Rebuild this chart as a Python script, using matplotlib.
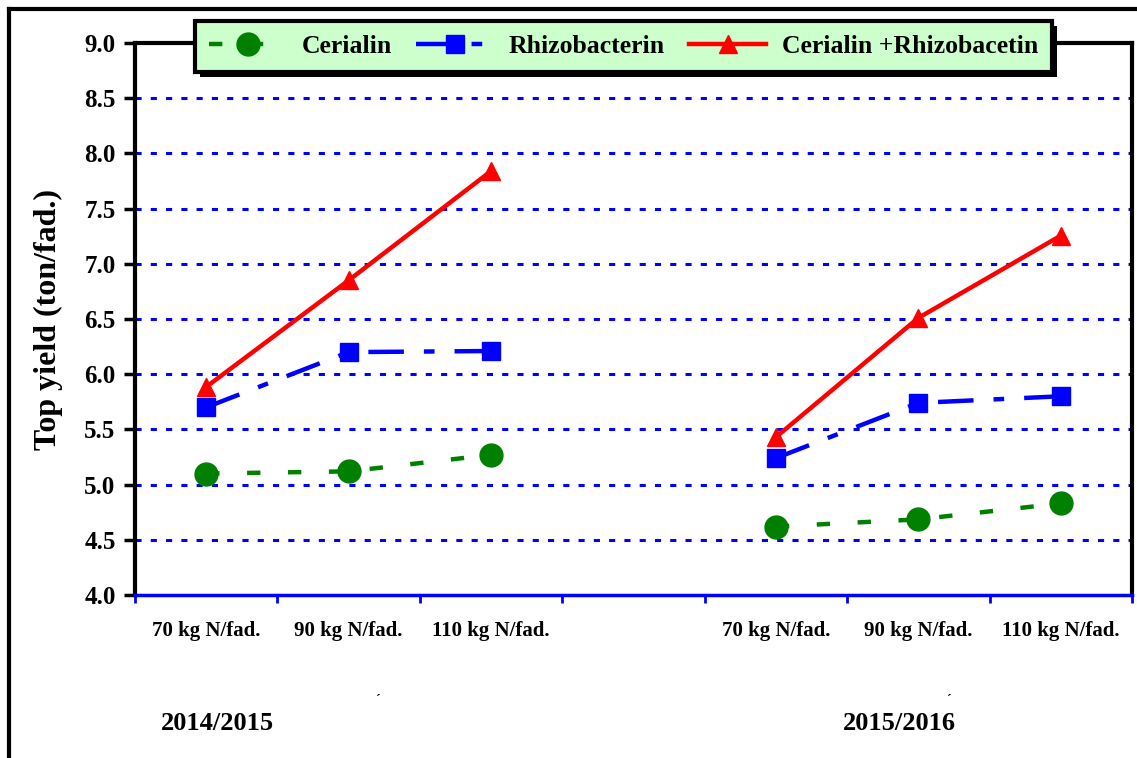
import numpy as np
import matplotlib
matplotlib.use("Agg")
import matplotlib.pyplot as plt
from matplotlib.lines import Line2D
from matplotlib.patches import Rectangle

plt.rcParams['font.family'] = ['Liberation Serif', 'DejaVu Serif']
plt.rcParams['font.weight'] = 'bold'

categories = ['70 kg N/fad.', '90 kg N/fad.', '110 kg N/fad.', '',
              '70 kg N/fad.', '90 kg N/fad.', '110 kg N/fad.']
seasons = ['2014/2015', '2015/2016']
cerialin = [5.10, 5.12, 5.27, np.nan, 4.62, 4.685, 4.83]
rhizobacterin = [5.70, 6.20, 6.21, np.nan, 5.24, 5.74, 5.80]
combined = [5.885, 6.85, 7.84, np.nan, 5.43, 6.51, 7.255]
yticks = [4.0, 4.5, 5.0, 5.5, 6.0, 6.5, 7.0, 7.5, 8.0, 8.5, 9.0]

W, H = 1137, 758
fig = plt.figure(figsize=(W / 100, H / 100), dpi=100)
ax = fig.add_axes([135 / W, 1 - 595 / H, (1132 - 135) / W, (595 - 43) / H])

x = np.arange(len(categories))

# gridlines
for yv in yticks[1:-1]:
    ax.axhline(yv, color='#0000FF', lw=2.2, linestyle=(0, (2, 3)), zorder=1)

l1, = ax.plot(x, cerialin, color='#008000', lw=3.2, linestyle=(0, (3.0, 6.2)),
              marker='o', markersize=16.5, label='Cerialin', zorder=3)
l2, = ax.plot(x, rhizobacterin, color='#0000FF', lw=3.2,
              linestyle=(0, (8, 4.5, 2.4, 4.5)),
              marker='s', markersize=13, label='Rhizobacterin', zorder=3)
l3, = ax.plot(x, combined, color='#FF0000', lw=3.2, linestyle='-',
              marker='^', markersize=13, label='Cerialin +Rhizobacetin', zorder=4)

ax.set_xlim(-0.5, len(categories) - 0.5)
ax.set_ylim(4.0, 9.0)
ax.set_yticks(yticks)
ax.set_yticklabels([f'{v:.1f}' for v in yticks], fontsize=18, fontweight='bold')

ax.set_xticks(np.arange(-0.5, len(categories)))
ax.set_xticklabels([])
ax.set_xticks(x, minor=True)
ax.set_xticklabels(categories, minor=True, fontsize=15, fontweight='bold')
ax.tick_params(axis='x', which='major', direction='out', length=6, width=2,
               color='#0000FF')
ax.tick_params(axis='x', which='minor', length=0, pad=19)
ax.tick_params(axis='y', direction='out', length=8, width=2.5, color='black', pad=6)

for s in ['left', 'top', 'right']:
    ax.spines[s].set_linewidth(3)
    ax.spines[s].set_color('black')
ax.spines['bottom'].set_color('#0000FF')
ax.spines['bottom'].set_linewidth(2.5)

ax.set_ylabel('Top yield (ton/fad.)', fontsize=23, fontweight='bold')
ax.yaxis.set_label_coords((63 - 135) / (1132 - 135), 0.5)

# season labels
fig.text(217 / W, 1 - 723 / H, seasons[0], fontsize=19, fontweight='bold',
         ha='center', va='center')
fig.text(899 / W, 1 - 723 / H, seasons[1], fontsize=19, fontweight='bold',
         ha='center', va='center')
fig.text(378 / W, 1 - 700 / H, 'ˊ', fontsize=10, ha='center', va='center')
fig.text(949 / W, 1 - 700 / H, 'ˊ', fontsize=10, ha='center', va='center')

# legend
leg = fig.legend(handles=[l1, l2, l3], loc='lower left', ncol=3, mode='expand',
                 bbox_to_anchor=(195 / W, 1 - 72 / H, (1052 - 195) / W, 50 / H),
                 borderaxespad=0, fancybox=False, facecolor='#CCFFCC',
                 edgecolor='black', framealpha=1, prop={'size': 18.5, 'weight': 'bold'},
                 handlelength=3.0, handletextpad=0.6, columnspacing=1.0,
                 numpoints=1, borderpad=0.55)
leg.get_frame().set_linewidth(3)
leg.set_zorder(10)

fig.canvas.draw()
bb = leg.get_window_extent().transformed(fig.transFigure.inverted())
shadow = Rectangle((bb.x0 + 5 / W, bb.y0 - 5 / H), bb.width, bb.height,
                   transform=fig.transFigure, facecolor='black', edgecolor='none',
                   zorder=9)
fig.add_artist(shadow)

# outer frame (left & top)
fig.add_artist(Line2D([9 / W, 9 / W], [0, 1 - 9 / H], color='black', lw=3,
                      transform=fig.transFigure))
fig.add_artist(Line2D([9 / W, 1], [1 - 9 / H, 1 - 9 / H], color='black', lw=3,
                      transform=fig.transFigure))

fig.savefig('out.png', dpi=100)
